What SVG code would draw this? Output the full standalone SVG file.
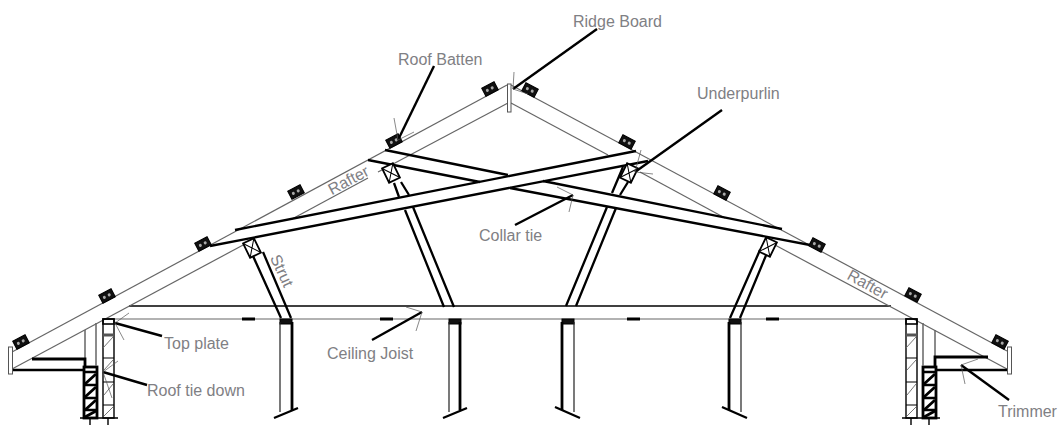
<svg xmlns="http://www.w3.org/2000/svg" width="1063" height="427" viewBox="0 0 1063 427">
<style>
text{font-family:"Liberation Sans",Arial,sans-serif;font-size:16px;fill:#7f8084}
line,path,rect,polyline{fill:none;stroke-linecap:butt}
.g{stroke:#666;stroke-width:1.2}
.k{stroke:#000;stroke-width:1.4}
.c{stroke:#000;stroke-width:2.300}
.h{stroke:#000;stroke-width:2.8}
.l{stroke:#000;stroke-width:2.4}
.t{stroke:#555;stroke-width:.7}
.w{stroke:#333;stroke-width:1;fill:#fff}
.d{stroke:#666;stroke-width:.9}
</style>
<defs>
<g id="batten"><rect x="-7" y="-4.500" width="14" height="9" style="fill:#111;stroke:#000"/><circle cx="-3" cy="0" r="1.500" fill="#aaa"/><circle cx="2.500" cy="0" r="1.500" fill="#aaa"/></g>
<g id="purlin"><rect x="-6" y="-8" width="12" height="16" style="fill:#fff;stroke:#000;stroke-width:1.800"/><path d="M-6-8L6 8M6-8L-6 8" style="stroke:#000;stroke-width:1"/></g>
<g id="cap"><rect x="0" y="0" width="12" height="5" style="fill:#111;stroke:#000"/></g>
<g id="wall">
<rect x="0" y="0" width="11" height="99" class="k"/>
<rect x="0" y="0" width="11" height="5" class="k" style="stroke-width:1.600"/>
<path d="M0 16H11" style="stroke:#555;stroke-width:3"/>
<path d="M0 39H11M0 63H11M0 86H11" class="k" style="stroke-width:1.200"/>
<path d="M0 29L10 18M1 51L10 41M1 76L10 65M1 97L10 88" class="d"/>
</g>
<g id="brick">
<rect x="0" y="0" width="13" height="51" style="stroke:#000;stroke-width:2.800"/>
<path d="M0 5H13M0 18H13M0 31H13M0 43H13" class="c"/>
<path d="M1 17L12 7M1 30L12 20M1 43L12 33M1 50L12 44" style="stroke:#000;stroke-width:2.800"/>
</g>
</defs>

<g id="ceiling-joist">
<line x1="129" y1="306" x2="891" y2="306" class="k"/>
<line x1="104" y1="319" x2="906" y2="319" class="g"/>
<path d="M242 319H255M380 319H393M627 319H640M766 319H779" class="h"/>
</g>

<g id="rafters">
<line x1="12" y1="352" x2="507" y2="85" class="g"/>
<line x1="12" y1="369" x2="245" y2="244" class="g"/>
<line x1="292" y1="219" x2="368" y2="178" class="g"/>
<line x1="378" y1="172" x2="508" y2="103" class="g"/>
<line x1="511" y1="85" x2="1007" y2="351" class="g"/>
<line x1="511" y1="103" x2="608" y2="155" class="g"/>
<line x1="640" y1="172" x2="725" y2="218" class="g"/>
<line x1="775" y1="245" x2="1007" y2="369" class="g"/>
</g>

<g id="ridge-board"><rect x="507.500" y="84" width="3.500" height="28" style="fill:#fff;stroke:#555;stroke-width:1"/></g>

<g id="struts">
<path d="M253 256L281 318M263 252L291 318" class="c"/>
<path d="M405 210L444 307M413 207L454 307M394 183L399 197M401 182L409 195" class="c"/>
<path d="M607 207L566 306M616 208L576 306M623 167L612 193M628 182L620 195" class="c"/>
<path d="M760 250L730 318M767 253L740 318" class="c"/>
</g>

<g id="collar-ties">
<path d="M385 150L508 175M543 181L782 229" class="c"/>
<path d="M368 160L480 182M510 188L810 245" class="c"/>
<path d="M235 230L636 151" class="c"/>
<path d="M210 246L648 161" class="c"/>
</g>

<g id="underpurlins">
<use href="#purlin" transform="translate(391 173) rotate(-26)"/>
<use href="#purlin" transform="translate(252 248) rotate(-26)"/>
<use href="#purlin" transform="translate(629 173) rotate(26)"/>
<use href="#purlin" transform="translate(768 247) rotate(26)"/>
</g>

<g id="roof-battens">
<use href="#batten" transform="translate(21 342) rotate(-28)"/>
<use href="#batten" transform="translate(107 296) rotate(-28)"/>
<use href="#batten" transform="translate(203 244) rotate(-28)"/>
<use href="#batten" transform="translate(296 192) rotate(-28)"/>
<use href="#batten" transform="translate(394 141) rotate(-28)"/>
<use href="#batten" transform="translate(490 89) rotate(-28)"/>
<use href="#batten" transform="translate(530 90) rotate(28)"/>
<use href="#batten" transform="translate(627 142) rotate(28)"/>
<use href="#batten" transform="translate(722 193) rotate(28)"/>
<use href="#batten" transform="translate(817 245) rotate(28)"/>
<use href="#batten" transform="translate(913 295) rotate(28)"/>
<use href="#batten" transform="translate(1000 342) rotate(28)"/>
</g>

<g id="posts">
<use href="#cap" x="280" y="319"/><use href="#cap" x="449" y="319"/><use href="#cap" x="562" y="319"/><use href="#cap" x="729" y="319"/>
<path d="M280 322V412M449 322V412M574 322V412M741 322V412" style="stroke:#222;stroke-width:1.200"/>
<path d="M292 322V410M460 322V410M562 322V410M729 322V410" class="h"/>
<path d="M274 418L298 408M443 418L467 408M555 407L580 418M722 407L747 418" class="c"/>
</g>

<g id="left-wall">
<use href="#wall" transform="translate(103 319)"/>
<use href="#brick" transform="translate(84 367)"/>
<path d="M85 330V360M96 323V366" class="g" style="stroke-width:1.500"/>
<path d="M32 359H85V366" class="h"/>
<path d="M12 370H84" class="c"/>
<rect x="8.500" y="347" width="4" height="27" class="w" style="fill:#fff;stroke:#555"/>
<path d="M80 418H118M90 418L90 425M108 418L108 425" class="k"/>
</g>

<g id="right-wall">
<use href="#wall" transform="translate(906 319)"/>
<use href="#brick" transform="translate(923 367)"/>
<path d="M935 330V358M923 323V366" class="g" style="stroke-width:1.500"/>
<path d="M988 357H935V366" class="h"/>
<path d="M936 370H1007" class="c"/>
<rect x="1007.500" y="347" width="4" height="27" class="w" style="fill:#fff;stroke:#555"/>
<path d="M902 418H940M911 418L911 425M929 418L929 425" class="k"/>
</g>

<g id="connectors">
<path d="M597 29L513 89" class="l"/><path d="M513 89L514 72M513 89L528 94" class="t"/>
<path d="M434 66L398 140" class="l"/><path d="M398 140L394 118M398 140L414 132" class="t"/>
<path d="M722 110L635 172" class="l"/><path d="M635 172L641 150M635 172L653 174" class="t"/>
<path d="M515 225L573 195" class="l"/><path d="M573 195L557 187M573 195L569 212" class="t"/>
<path d="M372 340L422 312" class="l"/><path d="M422 312L406 307M422 312L416 331" class="t"/>
<path d="M115 323L162 336" class="l"/><path d="M115 323L129 313M115 323L124 340" class="t"/>
<path d="M103 372L147 385" class="l"/><path d="M103 372L118 361M103 372L112 398" class="t"/>
<path d="M961 365L1009 400" class="l"/><path d="M961 365L978 359M961 365L965 384" class="t"/>
</g>

<g id="labels">
<text x="573" y="27">Ridge Board</text>
<text x="398" y="65">Roof Batten</text>
<text x="697" y="99">Underpurlin</text>
<text x="479" y="241">Collar tie</text>
<text x="164" y="349">Top plate</text>
<text x="147" y="396">Roof tie down</text>
<text x="327" y="359">Ceiling Joist</text>
<text x="998" y="417">Trimmer</text>
<text transform="translate(351 185) rotate(-28)" text-anchor="middle">Rafter</text>
<text transform="translate(865 289) rotate(29)" text-anchor="middle">Rafter</text>
<text transform="translate(277 273) rotate(65)" text-anchor="middle">Strut</text>
</g>
</svg>
